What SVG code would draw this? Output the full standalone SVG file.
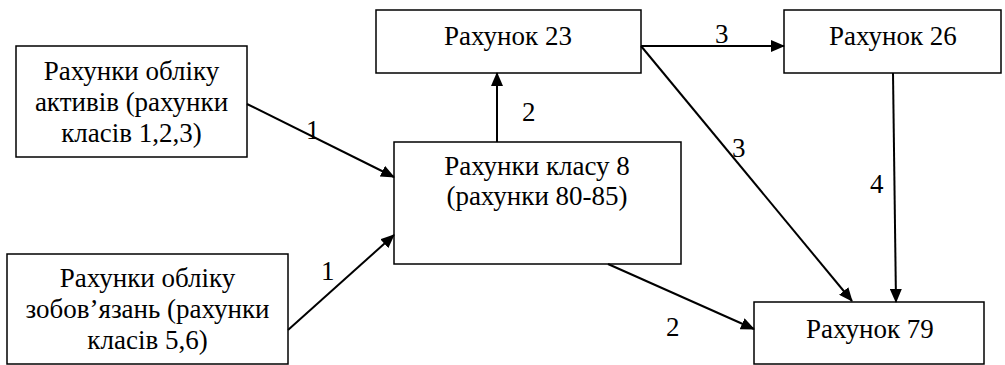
<svg xmlns="http://www.w3.org/2000/svg" width="1005" height="365" viewBox="0 0 1005 365">
<defs>
<marker id="ah" markerWidth="14" markerHeight="12" refX="13" refY="6" orient="auto" markerUnits="userSpaceOnUse">
<path d="M0,0 L14,6 L0,12 Z" fill="#000"/>
</marker>
</defs>
<rect width="1005" height="365" fill="#fff"/>
<g id="n-assets">
<rect x="16" y="46" width="231" height="111" fill="#fff" stroke="#000" stroke-width="1.5"/>
<text font-family="Liberation Serif" font-size="27" text-anchor="middle" x="131.5" y="80">Рахунки обліку</text>
<text font-family="Liberation Serif" font-size="27" text-anchor="middle" x="131.5" y="111">активів (рахунки</text>
<text font-family="Liberation Serif" font-size="27" text-anchor="middle" x="131.5" y="142">класів 1,2,3)</text>
</g>
<g id="n-23">
<rect x="376" y="10" width="265" height="63" fill="#fff" stroke="#000" stroke-width="1.5"/>
</g>
<text font-family="Liberation Serif" font-size="27" text-anchor="middle" x="508" y="45">Рахунок 23</text>
<g id="n-26">
<rect x="784" y="10" width="217" height="63" fill="#fff" stroke="#000" stroke-width="1.5"/>
</g>
<text font-family="Liberation Serif" font-size="27" x="829" y="45">Рахунок 26</text>
<g id="n-8">
<rect x="394" y="142" width="287" height="122" fill="#fff" stroke="#000" stroke-width="1.5"/>
<text font-family="Liberation Serif" font-size="27" text-anchor="middle" x="537" y="175">Рахунки класу 8</text>
<text font-family="Liberation Serif" font-size="27" text-anchor="middle" x="537" y="205">(рахунки 80-85)</text>
</g>
<g id="n-liab">
<rect x="7" y="254" width="281" height="110" fill="#fff" stroke="#000" stroke-width="1.5"/>
<text font-family="Liberation Serif" font-size="27" text-anchor="middle" x="147.5" y="287">Рахунки обліку</text>
<text font-family="Liberation Serif" font-size="27" text-anchor="middle" x="147.5" y="318">зобов’язань (рахунки</text>
<text font-family="Liberation Serif" font-size="27" text-anchor="middle" x="147.5" y="349">класів 5,6)</text>
</g>
<g id="n-79">
<rect x="754" y="302" width="230" height="62" fill="#fff" stroke="#000" stroke-width="1.5"/>
</g>
<text font-family="Liberation Serif" font-size="27" x="806" y="338">Рахунок 79</text>
<g id="connectors" stroke="#000" stroke-width="2" fill="none">
<line x1="247" y1="104" x2="394" y2="177" marker-end="url(#ah)"/>
<line x1="288" y1="330" x2="394" y2="235" marker-end="url(#ah)"/>
<line x1="497" y1="142" x2="497" y2="73" marker-end="url(#ah)"/>
<line x1="641" y1="46" x2="784" y2="46" marker-end="url(#ah)"/>
<line x1="641" y1="46" x2="852" y2="301" marker-end="url(#ah)"/>
<line x1="893" y1="73" x2="896" y2="302" marker-end="url(#ah)"/>
<line x1="608" y1="264" x2="754" y2="329" marker-end="url(#ah)"/>
</g>
<text font-family="Liberation Serif" font-size="27" x="306" y="139">1</text>
<text font-family="Liberation Serif" font-size="27" x="321" y="280">1</text>
<text font-family="Liberation Serif" font-size="27" x="522" y="121">2</text>
<text font-family="Liberation Serif" font-size="27" x="715" y="43">3</text>
<text font-family="Liberation Serif" font-size="27" x="732" y="157">3</text>
<text font-family="Liberation Serif" font-size="27" x="870" y="193">4</text>
<text font-family="Liberation Serif" font-size="27" x="666" y="336">2</text>
</svg>
